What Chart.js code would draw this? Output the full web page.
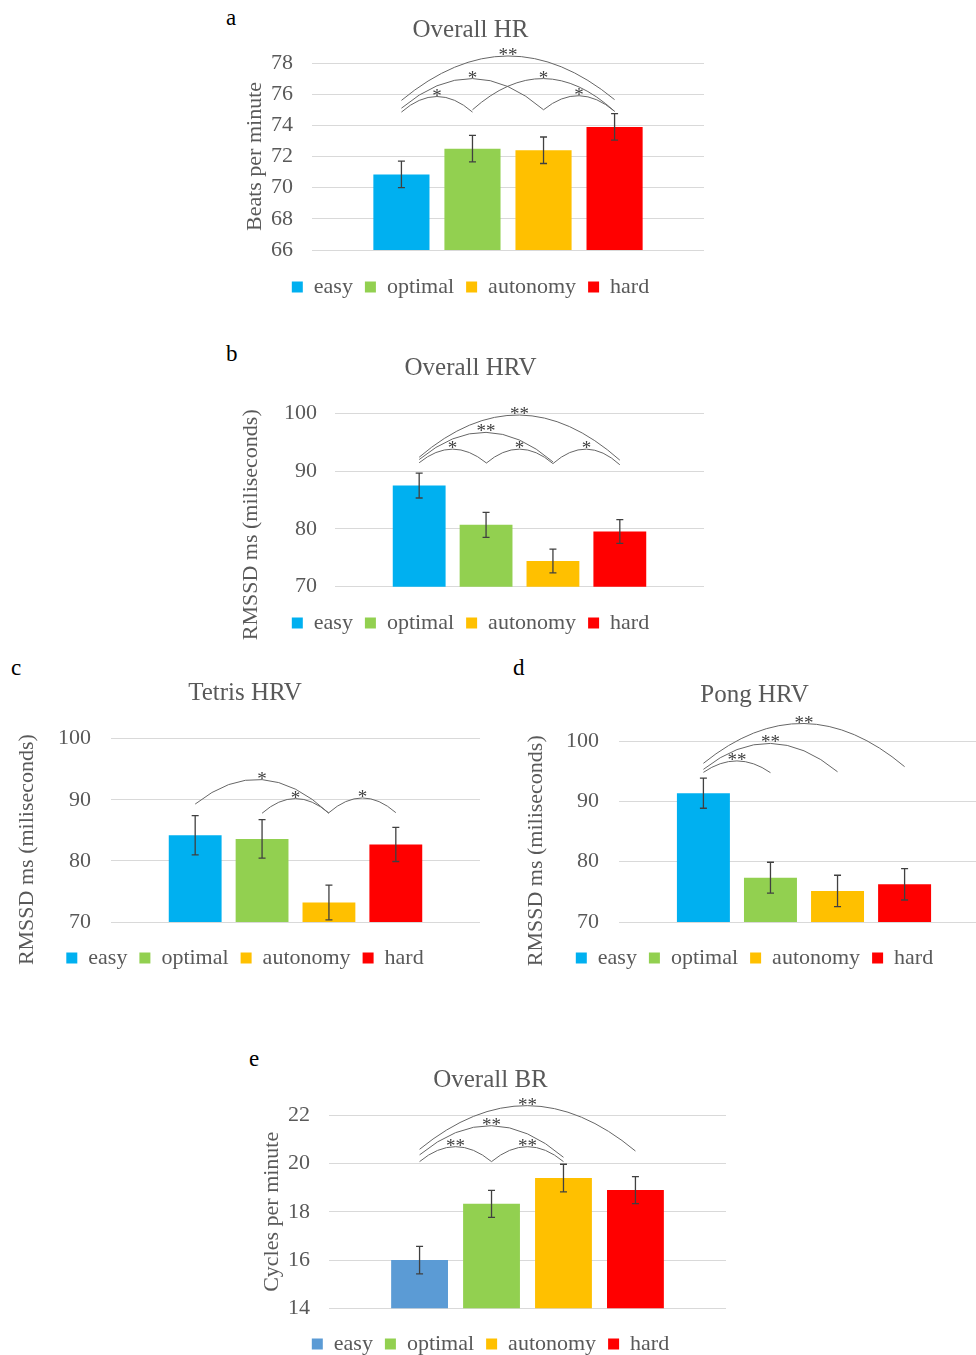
<!DOCTYPE html>
<html>
<head>
<meta charset="utf-8">
<script src="https://cdn.jsdelivr.net/npm/chart.js@4.4.1/dist/chart.umd.min.js"></script>
<style>
  html, body { margin: 0; padding: 0; background: #fff; overflow: hidden; }
  body { width: 976px; height: 1355px; position: relative; }
  .panel { position: absolute; }
  .tag { position: absolute; font-family: 'Liberation Serif', 'Times New Roman', serif; font-size: 23px; line-height: 23px; color: #000; }
</style>
</head>
<body>
<div class="tag" style="left:226px;top:6px">a</div>
<div class="tag" style="left:226px;top:342px">b</div>
<div class="tag" style="left:11px;top:656px">c</div>
<div class="tag" style="left:513px;top:656px">d</div>
<div class="tag" style="left:249px;top:1047px">e</div>

<canvas id="chartA" class="panel" width="472" height="310" style="left:237px;top:0px"></canvas>
<canvas id="chartB" class="panel" width="472" height="306" style="left:237px;top:340px"></canvas>
<canvas id="chartC" class="panel" width="474" height="326" style="left:10px;top:655px"></canvas>
<canvas id="chartD" class="panel" width="469" height="326" style="left:520px;top:655px"></canvas>
<canvas id="chartE" class="panel" width="476" height="327" style="left:255px;top:1040px"></canvas>

<script>
const categories = ['easy', 'optimal', 'autonomy', 'hard'];

// a - Overall HR
const hrMeans = [70.85, 72.5, 72.4, 73.9];
const hrErrors = [0.85, 0.85, 0.85, 0.85];
const hrTicks = [66, 68, 70, 72, 74, 76, 78];
const hrSigs = [[0, 1, 74.85, 74.85, 75.85, '*'], [0, 2, 75.1, 75.0, 77.0, '*'], [1, 3, 75.0, 74.9, 77.0, '*'],
                [2, 3, 75.0, 74.9, 75.9, '*'], [0, 3, 75.6, 75.65, 78.45, '**']];

// b - Overall HRV
const hrvMeans = [87.5, 80.7, 74.45, 79.55];
const hrvErrors = [2.15, 2.15, 2.05, 2.05];
const hrvTicks = [70, 80, 90, 100];
const hrvSigs = [[0, 1, 91.45, 91.45, 93.8, '*'], [1, 2, 91.35, 91.3, 93.8, '*'], [2, 3, 91.3, 91.1, 93.8, '*'],
                 [0, 2, 92.0, 91.6, 96.7, '**'], [0, 3, 92.4, 91.9, 99.7, '**']];

// c - Tetris HRV
const tetrisMeans = [84.2, 83.6, 73.2, 82.7];
const tetrisErrors = [3.2, 3.15, 2.85, 2.8];
const tetrisTicks = [70, 80, 90, 100];
const tetrisSigs = [[0, 2, 89.3, 87.8, 93.3, '*'], [1, 2, 87.8, 87.8, 90.2, '*'], [2, 3, 87.9, 87.9, 90.3, '*']];

// d - Pong HRV
const pongMeans = [91.35, 77.35, 75.15, 76.25];
const pongErrors = [2.5, 2.55, 2.6, 2.6];
const pongTicks = [70, 80, 90, 100];
const pongSigs = [[0, 1, 94.8, 94.75, 96.7, '**'], [0, 2, 95.3, 94.9, 99.6, '**'], [0, 3, 96.3, 95.75, 102.9, '**']];

// e - Overall BR
const brMeans = [16.0, 18.33, 19.4, 18.9];
const brErrors = [0.57, 0.56, 0.57, 0.56];
const brTicks = [14, 16, 18, 20, 22];
const brSigs = [[0, 1, 20.08, 20.08, 20.7, '**'], [1, 2, 20.08, 20.08, 20.7, '**'],
                [0, 2, 20.36, 20.26, 21.57, '**'], [0, 3, 20.59, 20.52, 22.4, '**']];

const TEXT = '#595959';
const FONT = "'Liberation Serif', 'Times New Roman', serif";
const BAR_COLORS = ['#00b0f0', '#92d050', '#ffc000', '#ff0000'];
const BR_COLORS = ['#5b9bd5', '#92d050', '#ffc000', '#ff0000'];
const NB = '\u00a0';

// error bars on top of each bar
const errorBarPlugin = {
    id: 'errorBars',
    afterDatasetsDraw(chart) {
        const ctx = chart.ctx, y = chart.scales.y;
        ctx.save();
        ctx.strokeStyle = '#404040';
        ctx.lineWidth = 1.3;
        chart.data.datasets.forEach((ds, i) => {
            const bar = chart.getDatasetMeta(i).data[0];
            const top = y.getPixelForValue(ds.data[0] + ds.errors[0]);
            const bot = y.getPixelForValue(ds.data[0] - ds.errors[0]);
            ctx.beginPath();
            ctx.moveTo(bar.x, top); ctx.lineTo(bar.x, bot);
            ctx.moveTo(bar.x - 3.5, top); ctx.lineTo(bar.x + 3.5, top);
            ctx.moveTo(bar.x - 3.5, bot); ctx.lineTo(bar.x + 3.5, bot);
            ctx.stroke();
        });
        ctx.restore();
    }
};

// significance arcs between bars
const sigArcPlugin = {
    id: 'sigArcs',
    afterDatasetsDraw(chart, args, opts) {
        const ctx = chart.ctx, y = chart.scales.y;
        ctx.save();
        ctx.strokeStyle = '#666666';
        ctx.lineWidth = 1;
        ctx.fillStyle = '#404040';
        ctx.font = `19px ${FONT}`;
        ctx.textAlign = 'center';
        ctx.textBaseline = 'alphabetic';
        (opts.arcs || []).forEach(([from, to, v1, v2, vPeak, label]) => {
            const x1 = chart.getDatasetMeta(from).data[0].x;
            const x2 = chart.getDatasetMeta(to).data[0].x;
            const y1 = y.getPixelForValue(v1), y2 = y.getPixelForValue(v2);
            const yp = y.getPixelForValue(vPeak);
            const cy = (4 * yp - y1 - y2) / 2;
            ctx.beginPath();
            ctx.moveTo(x1, y1);
            ctx.quadraticCurveTo((x1 + x2) / 2, cy, x2, y2);
            ctx.stroke();
            ctx.fillText(label, (x1 + x2) / 2, yp + 5);
        });
        ctx.restore();
    }
};

function makeDatasets(means, errors, colors) {
    return categories.map((name, i) => ({
        label: name,
        data: [means[i]],
        errors: [errors[i]],
        backgroundColor: colors[i],
        borderWidth: 0,
        categoryPercentage: 0.725,
        barPercentage: 0.79
    }));
}

function buildChart(id, p) {
    return new Chart(document.getElementById(id), {
        type: 'bar',
        data: { labels: [''], datasets: makeDatasets(p.means, p.errors, p.colors) },
        plugins: [errorBarPlugin, sigArcPlugin],
        options: {
            responsive: false,
            animation: false,
            devicePixelRatio: 1,
            layout: { padding: { left: 0, right: p.padRight, top: 0, bottom: 2 } },
            plugins: {
                title: {
                    display: true, text: p.title, color: TEXT,
                    font: { family: FONT, size: 25, weight: 'normal' },
                    padding: { top: p.titleTop, bottom: p.titleBottom }
                },
                legend: {
                    position: 'bottom',
                    labels: { color: TEXT, font: { family: FONT, size: 22 }, boxWidth: 11, boxHeight: 11, padding: 12 }
                },
                tooltip: { enabled: false },
                sigArcs: { arcs: p.sigs }
            },
            scales: {
                x: {
                    ticks: { display: false },
                    grid: { display: false },
                    border: { display: false },
                    afterFit: s => { s.height = p.xHeight; }
                },
                y: {
                    min: p.ticks[0],
                    max: p.ticks[p.ticks.length - 1],
                    ticks: { stepSize: p.ticks[1] - p.ticks[0], color: TEXT, font: { family: FONT, size: 22 }, padding: p.tickPad },
                    grid: { color: '#d9d9d9', drawTicks: false, lineWidth: 1 },
                    border: { display: false },
                    title: {
                        display: true, text: p.axisTitle, color: TEXT,
                        font: { family: FONT, size: 22 },
                        padding: { top: p.axisPad, bottom: 0 }
                    },
                    afterFit: s => { s.width = p.yWidth; }
                }
            }
        }
    });
}

buildChart('chartA', {
    title: 'Overall HR', axisTitle: 'Beats per minute',
    means: hrMeans, errors: hrErrors, ticks: hrTicks, sigs: hrSigs, colors: BAR_COLORS,
    padRight: 5, titleTop: 15, titleBottom: 18, xHeight: 14, yWidth: 75, tickPad: 19, axisPad: 5
});

buildChart('chartB', {
    title: 'Overall HRV', axisTitle: 'RMSSD ms (miliseconds)' + NB.repeat(9),
    means: hrvMeans, errors: hrvErrors, ticks: hrvTicks, sigs: hrvSigs, colors: BAR_COLORS,
    padRight: 5, titleTop: 13, titleBottom: 30.3, xHeight: 13.3, yWidth: 98, tickPad: 18, axisPad: 1
});

buildChart('chartC', {
    title: 'Tetris HRV', axisTitle: 'RMSSD ms (miliseconds)' + NB.repeat(7),
    means: tetrisMeans, errors: tetrisErrors, ticks: tetrisTicks, sigs: tetrisSigs, colors: BAR_COLORS,
    padRight: 4, titleTop: 23, titleBottom: 30.7, xHeight: 13, yWidth: 101, tickPad: 20, axisPad: 4
});

buildChart('chartD', {
    title: 'Pong HRV', axisTitle: 'RMSSD ms (miliseconds)' + NB.repeat(7),
    means: pongMeans, errors: pongErrors, ticks: pongTicks, sigs: pongSigs, colors: BAR_COLORS,
    padRight: 0, titleTop: 25, titleBottom: 31, xHeight: 13, yWidth: 99, tickPad: 20, axisPad: 3
});

buildChart('chartE', {
    title: 'Overall BR', axisTitle: 'Cycles per minute',
    means: brMeans, errors: brErrors, ticks: brTicks, sigs: brSigs, colors: BR_COLORS,
    padRight: 5, titleTop: 25, titleBottom: 20.3, xHeight: 12.7, yWidth: 74, tickPad: 19, axisPad: 4
});
</script>
</body>
</html>
